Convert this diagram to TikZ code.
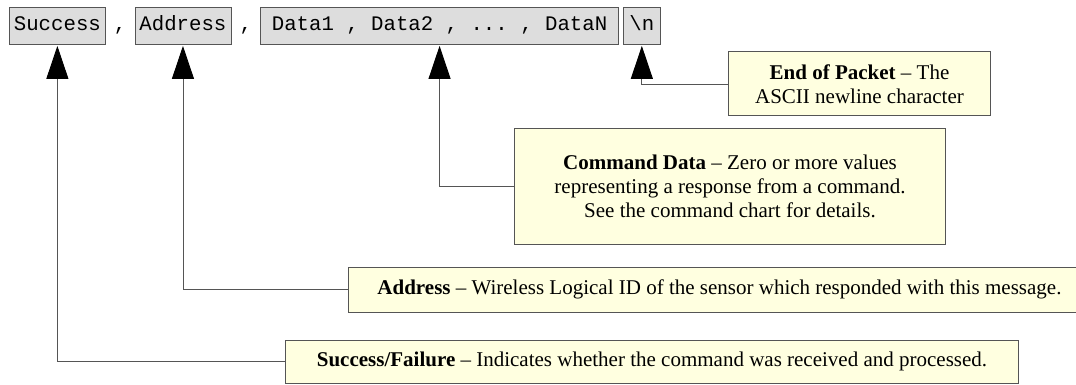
\documentclass[tikz,border=0pt]{standalone}
\usepackage{fontspec}
\setmainfont{Liberation Serif}
\setmonofont{Liberation Mono}
\usetikzlibrary{positioning}
\usetikzlibrary{arrows.meta}

\definecolor{fieldfill}{RGB}{221,221,221}
\definecolor{notefill}{RGB}{255,255,224}
\definecolor{edgegray}{RGB}{85,85,85}

\tikzset{
  field/.style={draw=edgegray, fill=fieldfill, line width=0.8pt,
    font=\fontsize{20.7}{24}\selectfont\ttfamily,
    text height=15pt, text depth=4pt,
    inner xsep=4.5pt, inner ysep=9pt},
  comma/.style={font=\fontsize{20.7}{24}\selectfont\ttfamily,
    text height=15pt, text depth=4pt,
    inner xsep=8pt, inner ysep=9pt},
  note/.style={draw=edgegray, fill=notefill, line width=1pt,
    font=\fontsize{21}{24}\selectfont, align=center, anchor=west,
    inner sep=0pt},
  pointer/.style={draw=edgegray, line width=0.9pt,
    -{Triangle[width=22pt,length=33pt,color=black]}, shorten >=1.5pt},
}

\begin{document}
\begin{tikzpicture}[x=1pt, y=-1pt]
    \useasboundingbox (0,0) rectangle (1076,385);

    % response packet fields
    \node [field, anchor=west] (f1) at (9,25.5) {Success};
    \node [comma, right=0pt of f1] (c1) {,};
    \node [field, right=0pt of c1] (f2) {Address};
    \node [comma, right=0pt of f2] (c2) {,};
    \node [field, right=0pt of c2, minimum width=358pt] (f3) {Data1 , Data2 , ... , DataN};
    \node [field, right=4pt of f3, minimum width=37pt] (f4) {\textbackslash n};

    % descriptions
    \node [note, minimum width=262pt, minimum height=64pt] (n4) at (728,84)
      {\textbf{End of Packet} -- The\\ASCII newline character};
    \node [note, minimum width=431pt, minimum height=115pt] (n3) at (514,186.5)
      {\textbf{Command Data} -- Zero or more values\\representing a response from a command.\\See the command chart for details.};
    \node [note, minimum width=742pt, minimum height=45pt] (n2) at (348,289.5)
      {\textbf{Address} -- Wireless Logical ID of the sensor which responded with this message.};
    \node [note, minimum width=733pt, minimum height=43pt] (n1) at (285,361.5)
      {\textbf{Success/Failure} -- Indicates whether the command was received and processed.};

    \draw [pointer] (n4.west) -| (f4.south);
    \draw [pointer] (n3.west) -| (f3.south);
    \draw [pointer] (n2.west) -| (f2.south);
    \draw [pointer] (n1.west) -| (f1.south);
\end{tikzpicture}
\end{document}
